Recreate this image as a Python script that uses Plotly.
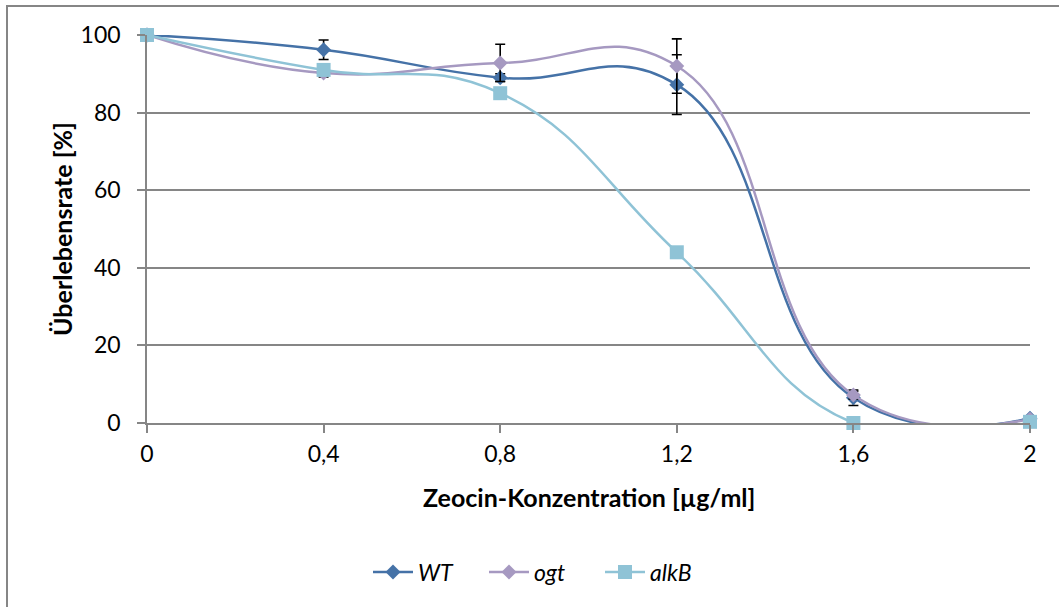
import plotly.graph_objects as go

# Zeocin concentrations (µg/ml) and their axis labels
conc = [0, 0.4, 0.8, 1.2, 1.6, 2.0]
conc_labels = ["0", "0,4", "0,8", "1,2", "1,6", "2"]

# Survival rate [%] per strain
wt = [100, 96.2, 89.0, 87.2, 6.5, 1.2]
wt_err = [0, 2.5, 1.0, 7.7, 2.0, 0.5]
ogt = [100, 90.2, 92.8, 92.0, 7.2, 1.0]
ogt_err = [0, 1.0, 4.8, 7.0, 1.0, 0.3]
alkb = [100, 91.0, 85.0, 44.0, 0.0, 0.3]

y_ticks = [0, 20, 40, 60, 80, 100]

FONT = "Lato"
GRID = "#868686"
SMOOTH = 1.3

fig = go.Figure()

fig.add_trace(go.Scatter(
    x=conc, y=wt, name="<i>WT</i>", mode="lines+markers",
    line=dict(color="#4572A7", width=2.5, shape="spline", smoothing=SMOOTH),
    marker=dict(symbol="diamond", size=11.5, color="#4572A7"),
    error_y=dict(type="data", array=wt_err, visible=True,
                 color="black", thickness=1.6, width=5),
    cliponaxis=False,
))
fig.add_trace(go.Scatter(
    x=conc, y=ogt, name="<i>ogt</i>", mode="lines+markers",
    line=dict(color="#A699C1", width=2.5, shape="spline", smoothing=SMOOTH),
    marker=dict(symbol="diamond", size=11.5, color="#A699C1"),
    error_y=dict(type="data", array=ogt_err, visible=True,
                 color="black", thickness=1.6, width=5),
    cliponaxis=False,
))
fig.add_trace(go.Scatter(
    x=conc, y=alkb, name="<i>alkB</i>", mode="lines+markers",
    line=dict(color="#8FC3D6", width=2.5, shape="spline", smoothing=SMOOTH),
    marker=dict(symbol="square", size=14, color="#8FC3D6"),
    cliponaxis=False,
))

# plot area spans x 147..1030, y 35..423 px
L, R, T, B = 147, 29, 35, 184
pw = 1059 - L - R
ph = 607 - T - B

fig.update_layout(
    width=1059, height=607,
    margin=dict(l=L, r=R, t=T, b=B),
    paper_bgcolor="white", plot_bgcolor="white",
    font=dict(family=FONT, size=23, color="black"),
    showlegend=True,
    legend=dict(orientation="h", x=(368 - L) / pw, y=(T + ph - 572) / ph,
                xanchor="left", yanchor="middle",
                font=dict(family=FONT, size=23, color="black"),
                entrywidth=61, entrywidthmode="pixels",
                itemwidth=40, bgcolor="rgba(0,0,0,0)"),
    xaxis=dict(range=[0, 2], tickvals=conc, ticktext=conc_labels,
               showgrid=False, zeroline=False,
               showline=True, linecolor=GRID, linewidth=1.5,
               ticks="outside", ticklen=8, tickcolor=GRID, tickwidth=1.5,
               ticklabelstandoff=2,
               tickfont=dict(family=FONT, size=23)),
    yaxis=dict(range=[0, 100], tickvals=y_ticks,
               showgrid=True, gridcolor=GRID, gridwidth=1.5, zeroline=False,
               showline=True, linecolor=GRID, linewidth=1.5,
               ticks="outside", ticklen=8, tickcolor=GRID, tickwidth=1.5,
               ticklabelstandoff=12,
               tickfont=dict(family=FONT, size=23)),
    annotations=[
        dict(text="<b>Zeocin-Konzentration [µg/ml]</b>", xref="paper", yref="paper",
             x=0.5, y=(T + ph - 497) / ph, xanchor="center", yanchor="middle",
             showarrow=False, font=dict(family=FONT, size=25)),
        dict(text="<b>Überlebensrate [%]</b>", xref="paper", yref="paper",
             x=(62 - L) / pw, y=0.5, xanchor="center", yanchor="middle",
             textangle=-90, showarrow=False, font=dict(family=FONT, size=25)),
    ],
    shapes=[
        dict(type="rect", xref="paper", yref="paper",
             x0=(7 - L) / pw, x1=(1070 - L) / pw,
             y0=(T + ph - 620) / ph, y1=(T + ph - 6) / ph,
             line=dict(color=GRID, width=2), layer="below"),
    ],
)

fig.write_html("out.html")
